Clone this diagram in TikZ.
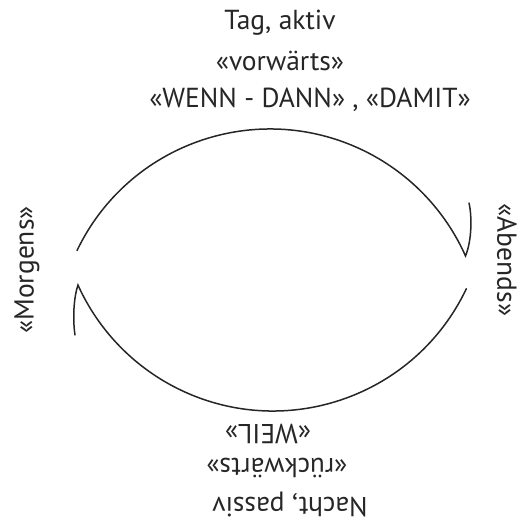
\documentclass[tikz,border=0pt]{standalone}
\usepackage{fontspec}
\setmainfont{PT Sans}
\begin{document}
\begin{tikzpicture}[x=1pt,y=1pt,
  curve/.style={line width=1.5pt, draw=black!85, line cap=round},
  lbl/.style={font=\fontsize{27.5}{30}\selectfont, text=black!85, inner sep=0pt}]
\useasboundingbox (0,0) rectangle (517,-527);
% top arc with hook
\draw[curve] (270,-343) ++(154.4:214) arc[start angle=154.4, end angle=24, radius=214]
  .. controls (472,-240) and (472,-216) .. (469,-203);
% bottom arc with hook
\draw[curve] (273,-197) ++(334.6:214) arc[start angle=334.6, end angle=204.3, radius=214]
  .. controls (73,-300) and (73,-322) .. (75,-335);
% texts
\node[lbl] (t1) at (280,-23) {Tag, aktiv};
\node[lbl] (t2) at (280,-61) {«vorwärts»};
\node[lbl] (t3) at (310,-100) {«WENN - DANN» , «DAMIT»};
\node[lbl, rotate=180] (b1) at (290,-505) {Nacht, passiv};
\node[lbl, rotate=180] (b2) at (277,-468) {«rückwärts»};
\node[lbl, rotate=180] (b3) at (268,-434) {«WEIL»};
\node[lbl, rotate=90] (m) at (27,-270) {«Morgens»};
\node[lbl, rotate=-90] (a) at (507,-260) {«Abends»};
\end{tikzpicture}
\end{document}
